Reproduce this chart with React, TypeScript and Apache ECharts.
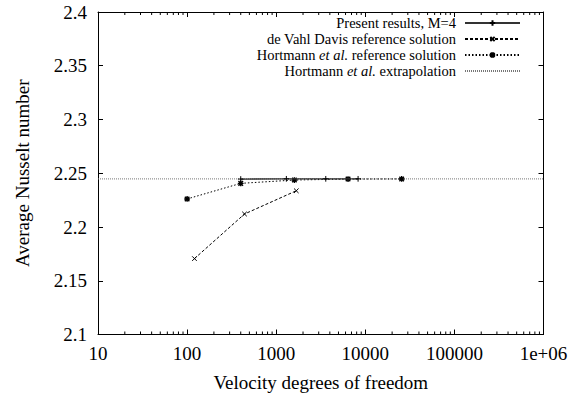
import React, { useEffect, useRef } from "react";
import * as echarts from "echarts";

const FONT = "'Liberation Serif', 'Times New Roman', serif";

const presentX = [400, 1300, 3600, 8300];
const presentY = [2.2446, 2.2448, 2.2448, 2.2448];

const devahlX = [121, 441, 1681];
const devahlY = [2.1706, 2.2121, 2.2337];

const hortX = [100, 400, 1600, 6400, 25600];
const hortY = [2.2261, 2.2406, 2.2437, 2.2446, 2.2447];

const extrapX = [10, 1000000];
const extrapY = [2.24475, 2.24475];

const minorMult = [2, 3, 4, 5, 6, 7, 8, 9];
const decades = [10, 100, 1000, 10000, 100000];

const yTicks = { min: 2.1, max: 2.4, interval: 0.05 };

const names = [
  "Present results, M=4",
  "de Vahl Davis reference solution",
  "Hortmann et al. reference solution",
  "Hortmann et al. extrapolation",
];

// symbols padded with invisible move-to points so legend icons stay small
const plusPath = "path://M-5.5 -5.5M15.5 15.5M5 0V10M0 5H10";
const crossPath = "path://M-5.5 -5.5M15.5 15.5M1 1L9 9M9 1L1 9";
const starPath = "path://M-5.5 -5.5M15.5 15.5M1 1L9 9M9 1L1 9M5 0V10M0 5H10";

export default function App() {
  const ref = useRef<HTMLDivElement>(null);
  useEffect(() => {
    if (!ref.current) return;
    const chart = echarts.init(ref.current, null, { renderer: "svg" });
    const minorTicks: number[][] = [];
    decades.forEach((d) => minorMult.forEach((m) => minorTicks.push([d * m, yTicks.min])));
    const zip = (xs: number[], ys: number[]) => xs.map((x, i) => [x, ys[i]]);
    const logAxisBase = {
      type: "log" as const,
      logBase: 10,
      min: 10,
      max: 1000000,
      axisLine: { show: true, lineStyle: { color: "#000", width: 1 } },
      axisTick: { show: true, inside: true, length: 5, lineStyle: { color: "#000" } },
      splitLine: { show: false },
      minorTick: { show: false },
    };
    const valAxisBase = {
      type: "value" as const,
      min: yTicks.min,
      max: yTicks.max,
      interval: yTicks.interval,
      axisLine: { show: true, lineStyle: { color: "#000", width: 1 } },
      axisTick: { show: true, inside: true, length: 5, lineStyle: { color: "#000" } },
      splitLine: { show: false },
    };
    const LH = 16;
    const LFS = 14.5;
    const rowCenters = [23, 39, 55, 71];
    const legends = names.map((n, i) => ({
      data: [n],
      orient: "vertical",
      right: 50,
      top: rowCenters[i] - LH / 2,
      padding: 0,
      align: "right",
      itemWidth: 55,
      itemHeight: 14,
      itemGap: 0,
      formatter: (s: string) =>
        s
          .split("et al.")
          .map((p) => (p ? `{n|${p}}` : ""))
          .join("{i|et al.}"),
      textStyle: {
        fontFamily: FONT,
        fontSize: LFS,
        color: "#000",
        lineHeight: LH,
        padding: [0, 4, 0, 0],
        rich: {
          n: { fontFamily: FONT, fontSize: LFS, color: "#000", lineHeight: LH },
          i: { fontStyle: "italic", fontFamily: FONT, fontSize: LFS, color: "#000", lineHeight: LH },
        },
      },
    }));
    chart.setOption({
      animation: false,
      backgroundColor: "#fff",
      grid: { left: 98, right: 27.5, top: 12, bottom: 63.5, containLabel: false },
      legend: legends,
      xAxis: [
        {
          ...logAxisBase,
          position: "bottom",
          name: "Velocity degrees of freedom",
          nameLocation: "middle",
          nameGap: 38,
          nameTextStyle: { fontFamily: FONT, fontSize: 19, color: "#000" },
          axisLabel: {
            fontFamily: FONT,
            fontSize: 19,
            color: "#000",
            margin: 9,
            formatter: (v: number) => (v >= 1000000 ? "1e+06" : String(Math.round(v))),
          },
        },
        { ...logAxisBase, position: "top", axisLabel: { show: false } },
      ],
      yAxis: [
        {
          ...valAxisBase,
          position: "left",
          name: "Average Nusselt number",
          nameLocation: "middle",
          nameGap: 66,
          nameTextStyle: { fontFamily: FONT, fontSize: 19, color: "#000" },
          axisLabel: {
            fontFamily: FONT,
            fontSize: 19,
            color: "#000",
            margin: 11,
            formatter: (v: number) => String(Math.round(v * 100) / 100),
          },
        },
        { ...valAxisBase, position: "right", axisLabel: { show: false } },
      ],
      series: [
        {
          name: names[0],
          type: "line",
          data: zip(presentX, presentY),
          symbol: plusPath,
          symbolSize: 12,
          showAllSymbol: true,
          lineStyle: { color: "#333", width: 1.3, type: "solid" },
          itemStyle: { color: "transparent", borderColor: "#000", borderWidth: 1 },
          z: 4,
        },
        {
          name: names[1],
          type: "line",
          data: zip(devahlX, devahlY),
          symbol: crossPath,
          symbolSize: 12,
          lineStyle: { color: "#000", width: 1, type: [3, 2] },
          itemStyle: { color: "transparent", borderColor: "#000", borderWidth: 1 },
          z: 3,
        },
        {
          name: names[2],
          type: "line",
          data: zip(hortX, hortY),
          symbol: starPath,
          symbolSize: 12,
          lineStyle: { color: "#000", width: 1, type: [1.5, 2] },
          itemStyle: { color: "transparent", borderColor: "#000", borderWidth: 1.4 },
          z: 3,
        },
        {
          name: names[3],
          type: "line",
          data: zip(extrapX, extrapY),
          symbol: "circle",
          showSymbol: false,
          symbolSize: 0,
          lineStyle: { color: "#777", width: 1, type: [1, 1] },
          itemStyle: { color: "transparent", borderColor: "transparent" },
          z: 2,
        },
        {
          name: "minorTicks",
          type: "custom",
          silent: true,
          clip: false,
          data: minorTicks,
          renderItem: (_p: any, api: any) => {
            const x = api.value(0);
            const b = api.coord([x, yTicks.min]);
            const t = api.coord([x, yTicks.max]);
            return {
              type: "group",
              children: [
                { type: "line", shape: { x1: b[0], y1: b[1], x2: b[0], y2: b[1] - 3 }, style: { stroke: "#000", lineWidth: 1 } },
                { type: "line", shape: { x1: t[0], y1: t[1], x2: t[0], y2: t[1] + 3 }, style: { stroke: "#000", lineWidth: 1 } },
              ],
            };
          },
          z: 5,
        },
      ],
    });
    return () => chart.dispose();
  }, []);
  return <div ref={ref} style={{ width: 571, height: 398, position: "absolute", left: 0, top: 0 }} />;
}
